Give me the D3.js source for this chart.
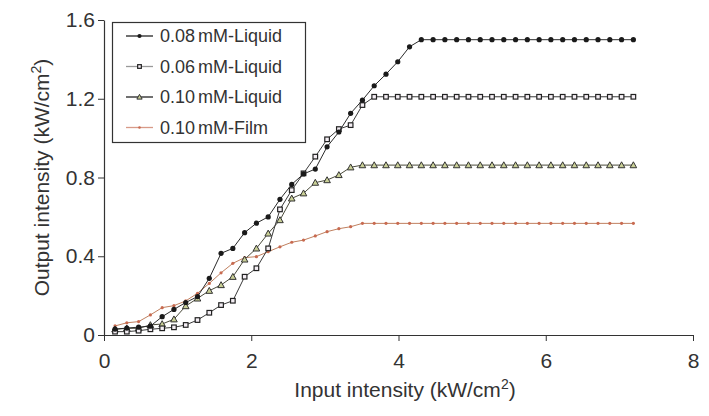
<!DOCTYPE html>
<html>
<head>
<meta charset="utf-8">
<script src="https://cdn.jsdelivr.net/npm/d3@7"></script>
<style>
  body { margin: 0; background: #fff; }
  svg text { font-family: "Liberation Sans", Arial, sans-serif; fill: #333; }
  .axis path, .axis line { stroke: #333; }
  .axis text { font-size: 21px; fill: #333; }
</style>
</head>
<body>
<div class="chart"></div>
<script>
// input intensity (kW/cm2), shared by all series
const inputs = [0.15, 0.31, 0.47, 0.63, 0.79, 0.95, 1.11, 1.27, 1.43, 1.59,
  1.75, 1.91, 2.07, 2.23, 2.39, 2.55, 2.71, 2.87, 3.03, 3.19,
  3.35, 3.51, 3.67, 3.83, 3.99, 4.15, 4.31, 4.47, 4.63, 4.79,
  4.95, 5.11, 5.27, 5.43, 5.59, 5.75, 5.91, 6.07, 6.23, 6.39,
  6.55, 6.71, 6.87, 7.03, 7.19];

const liquid008 = [0.03, 0.035, 0.04, 0.045, 0.093, 0.13, 0.165, 0.195, 0.288, 0.415,
  0.44, 0.52, 0.568, 0.60, 0.689, 0.765, 0.818, 0.843, 0.956, 1.031,
  1.126, 1.193, 1.266, 1.325, 1.388, 1.464, 1.50, 1.50, 1.50, 1.50,
  1.50, 1.50, 1.50, 1.50, 1.50, 1.50, 1.50, 1.50, 1.50, 1.50,
  1.50, 1.50, 1.50, 1.50, 1.50];

const liquid006 = [0.017, 0.017, 0.022, 0.029, 0.034, 0.039, 0.051, 0.076, 0.113, 0.152,
  0.174, 0.296, 0.339, 0.44, 0.638, 0.736, 0.821, 0.906, 0.994, 1.046,
  1.066, 1.168, 1.21, 1.21, 1.21, 1.21, 1.21, 1.21, 1.21, 1.21,
  1.21, 1.21, 1.21, 1.21, 1.21, 1.21, 1.21, 1.21, 1.21, 1.21,
  1.21, 1.21, 1.21, 1.21, 1.21];

const liquid010 = [0.029, 0.034, 0.034, 0.051, 0.056, 0.08, 0.147, 0.186, 0.225, 0.254,
  0.296, 0.384, 0.44, 0.516, 0.584, 0.694, 0.72, 0.774, 0.787, 0.813,
  0.852, 0.863, 0.863, 0.863, 0.863, 0.863, 0.863, 0.863, 0.863, 0.863,
  0.863, 0.863, 0.863, 0.863, 0.863, 0.863, 0.863, 0.863, 0.863, 0.863,
  0.863, 0.863, 0.863, 0.863, 0.863];

const film010 = [0.046, 0.062, 0.068, 0.102, 0.139, 0.149, 0.173, 0.212, 0.262, 0.316,
  0.364, 0.393, 0.398, 0.423, 0.448, 0.471, 0.482, 0.503, 0.525, 0.54,
  0.55, 0.567, 0.567, 0.567, 0.567, 0.567, 0.567, 0.567, 0.567, 0.567,
  0.567, 0.567, 0.567, 0.567, 0.567, 0.567, 0.567, 0.567, 0.567, 0.567,
  0.567, 0.567, 0.567, 0.567, 0.567];

const seriesNames = ["0.08 mM-Liquid", "0.06 mM-Liquid", "0.10 mM-Liquid", "0.10 mM-Film"];
const xTicks = [0, 2, 4, 6, 8];
const yTicks = [0, 0.4, 0.8, 1.2, 1.6];

/* Dimensions */
const width = 709;
const height = 416;
const margin = { top: 20, right: 16, bottom: 81, left: 104 };

/* Scales */
const xScale = d3.scaleLinear()
    .domain([0, 8])
    .range([margin.left, width - margin.right]);

const yScale = d3.scaleLinear()
    .domain([0, 1.6])
    .range([height - margin.bottom, margin.top]);

const svg = d3.select(".chart")
    .append("svg")
    .attr("width", width)
    .attr("height", height);

// series styles
const series = [
    { name: seriesNames[0], values: liquid008, line: "#2a2a2a", legendLine: "#222", marker: "circle" },
    { name: seriesNames[1], values: liquid006, line: "#3a3a3a", legendLine: "#999", marker: "square" },
    { name: seriesNames[2], values: liquid010, line: "#4a4a3a", legendLine: "#222", marker: "triangle" },
    { name: seriesNames[3], values: film010, line: "#c0805f", legendLine: "#d89a88", marker: "star" }
];

function drawMarker(g, type, x, y, small) {
    const k = small ? 0.8 : 1;
    if (type === "circle") {
        g.append("circle").attr("cx", x).attr("cy", y).attr("r", 2.6 * k)
            .attr("fill", "#1a1a1a");
    } else if (type === "square") {
        const s = 4.6 * k;
        g.append("rect").attr("x", x - s / 2).attr("y", y - s / 2)
            .attr("width", s).attr("height", s)
            .attr("fill", "#f4eef4").attr("stroke", "#222").attr("stroke-width", 1.2);
    } else if (type === "triangle") {
        const s = 3.3 * k;
        g.append("path")
            .attr("d", `M${x},${y - s}L${x + s},${y + s * 0.8}L${x - s},${y + s * 0.8}Z`)
            .attr("fill", "#c9cf96").attr("stroke", "#333").attr("stroke-width", 1);
    } else {
        g.append("circle").attr("cx", x).attr("cy", y).attr("r", 1.6 * k)
            .attr("fill", "#c86a50");
    }
}

const line = d3.line()
    .x((d, i) => xScale(inputs[i]))
    .y(d => yScale(d));

// draw series, film first so the liquid curves sit on top
[3, 2, 1, 0].forEach(idx => {
    const s = series[idx];
    svg.append("path")
        .datum(s.values)
        .attr("fill", "none")
        .attr("stroke", s.line)
        .attr("stroke-width", 1)
        .attr("d", line);
    const g = svg.append("g");
    s.values.forEach((v, i) => drawMarker(g, s.marker, xScale(inputs[i]), yScale(v), false));
});

/* Axes */
svg.append("g")
    .attr("class", "axis")
    .attr("transform", `translate(0,${height - margin.bottom})`)
    .call(d3.axisBottom(xScale).tickValues(xTicks).tickSize(6).tickSizeOuter(0).tickPadding(8))
    .call(g => g.selectAll("text").attr("dy", "0.9em"));

svg.append("g")
    .attr("class", "axis")
    .attr("transform", `translate(${margin.left},0)`)
    .call(d3.axisLeft(yScale).tickValues(yTicks).tickSize(6).tickSizeOuter(0).tickPadding(3)
        .tickFormat(d => d === 0 ? "0" : d3.format(".1f")(d)));

svg.selectAll(".axis .domain").attr("stroke-width", 1.2);

// axis titles
const xt = svg.append("text")
    .attr("x", 405)
    .attr("y", 397)
    .attr("text-anchor", "middle")
    .style("font-size", "21px");
xt.append("tspan").text("Input intensity (kW/cm");
xt.append("tspan").attr("dy", -8).style("font-size", "14px").text("2");
xt.append("tspan").attr("dy", 8).text(")");

const yt = svg.append("text")
    .attr("transform", `translate(49,${(margin.top + height - margin.bottom) / 2}) rotate(-90)`)
    .attr("text-anchor", "middle")
    .style("font-size", "21px");
yt.append("tspan").text("Output intensity (kW/cm");
yt.append("tspan").attr("dy", -8).style("font-size", "14px").text("2");
yt.append("tspan").attr("dy", 8).text(")");

/* Legend */
const legend = svg.append("g");
legend.append("rect")
    .attr("x", 112.5).attr("y", 22.5)
    .attr("width", 193).attr("height", 120)
    .attr("fill", "#fff").attr("stroke", "#333").attr("stroke-width", 1.2);

series.forEach((s, i) => {
    const ly = 36 + i * 30.5;
    legend.append("line")
        .attr("x1", 126).attr("x2", 153)
        .attr("y1", ly).attr("y2", ly)
        .attr("stroke", s.legendLine).attr("stroke-width", 1.3);
    drawMarker(legend, s.marker, 139.5, ly, true);
    legend.append("text")
        .attr("x", 160).attr("y", ly)
        .attr("dy", "0.36em")
        .style("font-size", "18px")
        .style("word-spacing", "-2px")
        .text(s.name);
});
</script>
</body>
</html>
